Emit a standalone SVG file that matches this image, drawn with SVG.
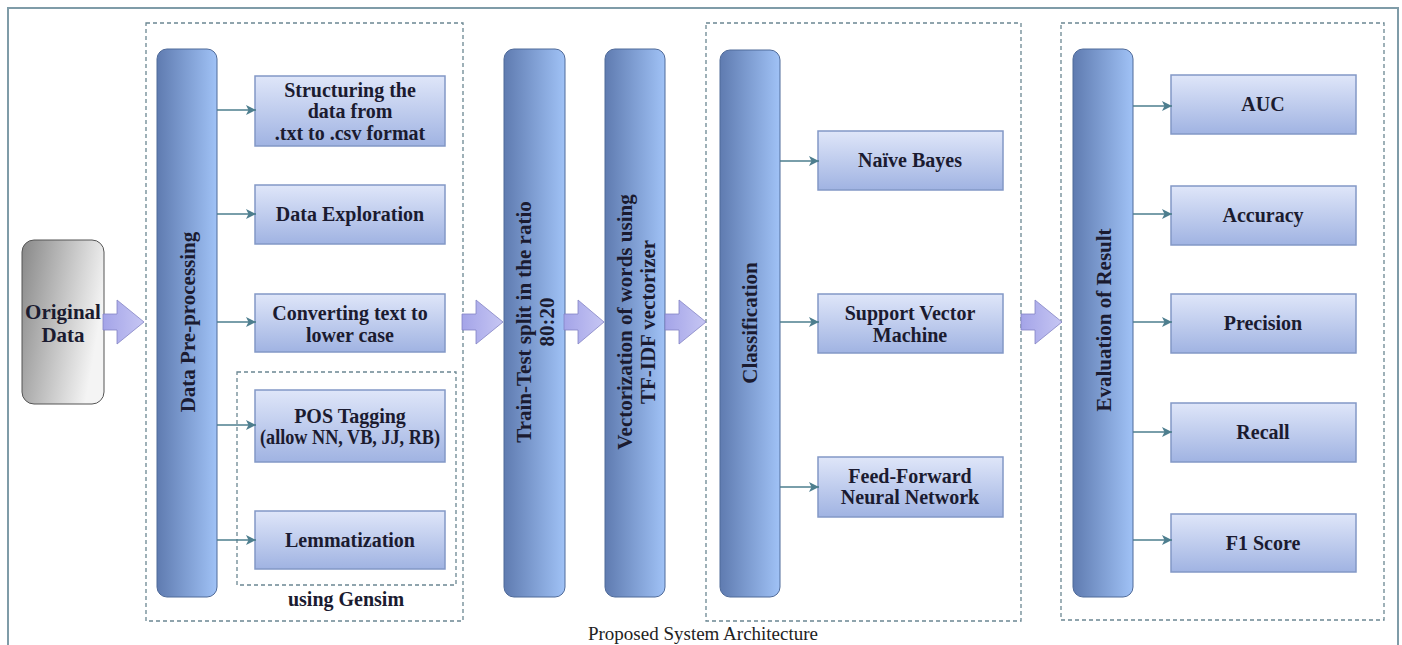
<svg xmlns="http://www.w3.org/2000/svg" width="1402" height="645" viewBox="0 0 1402 645">
<defs>
<linearGradient id="gBar" x1="0" y1="0" x2="1" y2="0">
<stop offset="0" stop-color="#5f7bb0"/>
<stop offset="1" stop-color="#a0c2f6"/>
</linearGradient>
<linearGradient id="gBox" x1="0" y1="0" x2="0" y2="1">
<stop offset="0" stop-color="#dfe6f9"/>
<stop offset="1" stop-color="#a0b3e2"/>
</linearGradient>
<linearGradient id="gOrig" x1="0" y1="0" x2="1" y2="0.35">
<stop offset="0" stop-color="#888888"/>
<stop offset="1" stop-color="#f4f4f4"/>
</linearGradient>
<linearGradient id="gBig" x1="0" y1="0" x2="1" y2="0">
<stop offset="0" stop-color="#a4a4e8"/>
<stop offset="1" stop-color="#c6c6f3"/>
</linearGradient>
<marker id="ah" viewBox="0 0 10 10" refX="10" refY="5" markerWidth="10" markerHeight="10" markerUnits="userSpaceOnUse" orient="auto">
<path d="M0,0 L10,5 L0,10 L2.5,5 Z" fill="#4d7e8e"/>
</marker>
</defs>
<style>
.bar{fill:url(#gBar);stroke:#4f6a99;stroke-width:1}
.box{fill:url(#gBox);stroke:#8398c6;stroke-width:1.5}
.dash{fill:none;stroke:#6b8792;stroke-width:1.3;stroke-dasharray:4 3}
.big{fill:url(#gBig);stroke:#8484c4;stroke-width:0.8}
.conn{stroke:#4d7e8e;stroke-width:1.5;fill:none;marker-end:url(#ah)}
.t{font-family:"Liberation Serif","Times New Roman",serif;font-weight:bold;font-size:20px;fill:#1b1b30;text-anchor:middle}
.vt{font-family:"Liberation Serif","Times New Roman",serif;font-weight:bold;font-size:21px;fill:#1b1b30;text-anchor:middle}
.cap{font-family:"Liberation Serif","Times New Roman",serif;font-size:19px;fill:#222;text-anchor:middle}
</style>
<rect x="0" y="0" width="1402" height="645" fill="#ffffff"/>
<rect x="8" y="8" width="1390" height="660" fill="none" stroke="#7f9ca8" stroke-width="2"/>

<g id="groups">
<rect class="dash" x="146" y="23" width="317" height="598"/>
<rect class="dash" x="237" y="372" width="219" height="213"/>
<rect class="dash" x="706" y="23" width="315" height="598"/>
<rect class="dash" x="1061" y="23" width="323" height="597"/>
<text class="t" x="346" y="606">using Gensim</text>
</g>

<g id="original-data">
<rect x="22" y="240" width="82" height="164" rx="12" fill="url(#gOrig)" stroke="#555" stroke-width="1"/>
<text class="vt" x="63" y="319">Original</text>
<text class="vt" x="63" y="342">Data</text>
</g>

<g id="data-preprocessing">
<rect class="bar" x="157" y="49" width="60" height="548" rx="10"/>
<text class="vt" transform="translate(195,322) rotate(-90)">Data Pre-processing</text>
</g>
<g id="structuring">
<rect class="box" x="255" y="76" width="190" height="70"/>
<text class="t" x="350" y="97">Structuring the</text>
<text class="t" x="350" y="118">data from</text>
<text class="t" x="350" y="140">.txt to .csv format</text>
</g>
<g id="data-exploration">
<rect class="box" x="255" y="185" width="190" height="59"/>
<text class="t" x="350" y="221">Data Exploration</text>
</g>
<g id="lower-case">
<rect class="box" x="255" y="294" width="190" height="58"/>
<text class="t" x="350" y="320">Converting text to</text>
<text class="t" x="350" y="342">lower case</text>
</g>
<g id="pos-tagging">
<rect class="box" x="255" y="390" width="190" height="72"/>
<text class="t" x="350" y="423">POS Tagging</text>
<text class="t" x="350" y="444" textLength="180" lengthAdjust="spacingAndGlyphs">(allow NN, VB, JJ, RB)</text>
</g>
<g id="lemmatization">
<rect class="box" x="255" y="511" width="190" height="58"/>
<text class="t" x="350" y="547">Lemmatization</text>
</g>

<g id="train-test">
<rect class="bar" x="504" y="49" width="61" height="548" rx="10"/>
<text class="vt" transform="translate(531,322) rotate(-90)">Train-Test split in the ratio<tspan x="0" dy="23">80:20</tspan></text>
</g>
<g id="vectorization">
<rect class="bar" x="605" y="49" width="60" height="548" rx="10"/>
<text class="vt" transform="translate(632,322) rotate(-90)">Vectorization of words using<tspan x="0" dy="23">TF-IDF vectorizer</tspan></text>
</g>

<g id="classification">
<rect class="bar" x="720" y="50" width="60" height="547" rx="10"/>
<text class="vt" transform="translate(757,323) rotate(-90)">Classification</text>
</g>
<g id="naive-bayes">
<rect class="box" x="818" y="131" width="185" height="59"/>
<text class="t" x="910" y="167">Naïve Bayes</text>
</g>
<g id="svm">
<rect class="box" x="818" y="294" width="185" height="59"/>
<text class="t" x="910" y="320">Support Vector</text>
<text class="t" x="910" y="342">Machine</text>
</g>
<g id="ffnn">
<rect class="box" x="818" y="457" width="185" height="60"/>
<text class="t" x="910" y="483">Feed-Forward</text>
<text class="t" x="910" y="504">Neural Network</text>
</g>

<g id="evaluation">
<rect class="bar" x="1073" y="49" width="60" height="548" rx="10"/>
<text class="vt" transform="translate(1111,320) rotate(-90)">Evaluation of Result</text>
</g>
<g id="auc">
<rect class="box" x="1171" y="75" width="185" height="59"/>
<text class="t" x="1263" y="111">AUC</text>
</g>
<g id="accuracy">
<rect class="box" x="1171" y="186" width="185" height="59"/>
<text class="t" x="1263" y="222">Accuracy</text>
</g>
<g id="precision">
<rect class="box" x="1171" y="294" width="185" height="59"/>
<text class="t" x="1263" y="330">Precision</text>
</g>
<g id="recall">
<rect class="box" x="1171" y="403" width="185" height="59"/>
<text class="t" x="1263" y="439">Recall</text>
</g>
<g id="f1-score">
<rect class="box" x="1171" y="514" width="185" height="58"/>
<text class="t" x="1263" y="550">F1 Score</text>
</g>

<g id="connectors">
<path class="big" d="M103,314 H117 V300 L144,322 L117,344 V330 H103 Z"/>
<path class="big" d="M462,314 H476 V300 L503,322 L476,344 V330 H462 Z"/>
<path class="big" d="M564,314 H578 V300 L604,322 L578,344 V330 H564 Z"/>
<path class="big" d="M665,314 H679 V300 L706,322 L679,344 V330 H665 Z"/>
<path class="big" d="M1021,314 H1035 V300 L1062,322 L1035,344 V330 H1021 Z"/>
<line class="conn" x1="217" y1="110" x2="256" y2="110"/>
<line class="conn" x1="217" y1="214" x2="256" y2="214"/>
<line class="conn" x1="217" y1="322" x2="256" y2="322"/>
<line class="conn" x1="217" y1="425" x2="256" y2="425"/>
<line class="conn" x1="217" y1="540" x2="256" y2="540"/>
<line class="conn" x1="780" y1="161" x2="819" y2="161"/>
<line class="conn" x1="780" y1="322" x2="819" y2="322"/>
<line class="conn" x1="780" y1="487" x2="819" y2="487"/>
<line class="conn" x1="1133" y1="106" x2="1172" y2="106"/>
<line class="conn" x1="1133" y1="214" x2="1172" y2="214"/>
<line class="conn" x1="1133" y1="322" x2="1172" y2="322"/>
<line class="conn" x1="1133" y1="432" x2="1172" y2="432"/>
<line class="conn" x1="1133" y1="540" x2="1172" y2="540"/>
</g>

<text class="cap" x="703" y="640">Proposed System Architecture</text>
</svg>
